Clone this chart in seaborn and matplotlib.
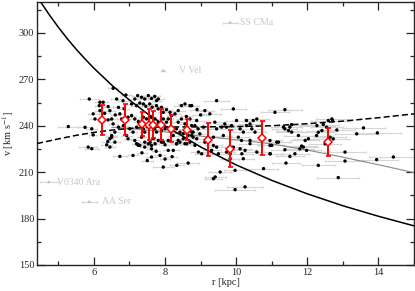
import numpy as np
import matplotlib
matplotlib.use("Agg")
import matplotlib.pyplot as plt
import seaborn as sns
from matplotlib.ticker import MultipleLocator

# star sample: (r [kpc], v [km/s], r error), grouped by region
left_pts = [
    (5.28, 239.5, 0.28), (5.75, 239.0, 0.20), (5.84, 226.2, 0.25), (5.94, 225.2, 0.20),
    (5.87, 257.3, 0.26), (5.98, 247.7, 0.15), (6.03, 244.4, 0.15), (5.94, 238.0, 0.15),
    (5.98, 234.1, 0.12), (6.17, 255.2, 0.15), (6.15, 253.0, 0.12), (6.17, 249.8, 0.15),
    (6.26, 255.2, 0.15), (6.40, 252.4, 0.15), (6.45, 249.8, 0.15), (6.40, 243.8, 0.12),
    (6.50, 244.4, 0.15), (6.54, 241.2, 0.12), (6.54, 264.2, 0.15), (6.64, 257.3, 0.15),
    (6.69, 251.9, 0.15), (6.73, 247.7, 0.15), (6.82, 256.2, 0.15), (6.90, 259.9, 0.15),
    (6.78, 244.4, 0.12), (6.83, 240.1, 0.15), (6.69, 239.1, 0.12), (6.59, 235.9, 0.15),
    (6.50, 233.7, 0.15), (6.45, 231.6, 0.12), (6.92, 233.7, 0.15), (6.36, 227.7, 0.15),
    (6.50, 232.6, 0.12), (6.59, 229.4, 0.15), (6.45, 226.2, 0.15), (6.39, 229.8, 0.15),
    (6.73, 220.2, 0.20), (6.30, 248.0, 0.15), (6.60, 247.0, 0.12), (6.85, 251.0, 0.15),
]

core_pts = [
    (7.15, 257.3, 0.15), (7.23, 259.5, 0.15), (7.34, 258.4, 0.12), (7.43, 257.3, 0.15),
    (7.53, 259.5, 0.12), (7.62, 257.7, 0.15), (7.71, 259.0, 0.15), (7.76, 256.2, 0.12),
    (7.81, 257.3, 0.15), (7.06, 254.1, 0.12), (7.20, 253.0, 0.15), (7.29, 254.7, 0.12),
    (7.39, 254.1, 0.15), (7.46, 252.6, 0.12), (7.57, 254.1, 0.15), (7.64, 252.0, 0.12),
    (7.76, 253.0, 0.15), (7.81, 250.9, 0.12), (7.90, 251.9, 0.15), (7.95, 248.7, 0.15),
    (8.04, 250.4, 0.15), (8.14, 248.7, 0.15), (8.18, 246.6, 0.12), (8.28, 247.7, 0.15),
    (8.37, 249.8, 0.20), (8.46, 253.0, 0.20), (8.56, 254.1, 0.20), (8.70, 253.0, 0.20),
    (6.96, 245.5, 0.12), (7.06, 246.6, 0.12), (7.15, 244.4, 0.15), (7.25, 242.7, 0.12),
    (7.39, 245.5, 0.12), (7.48, 244.4, 0.15), (7.62, 245.5, 0.12), (7.71, 244.4, 0.12),
    (7.81, 242.3, 0.15), (7.95, 244.4, 0.12), (8.04, 242.3, 0.15), (8.09, 244.4, 0.12),
    (8.37, 242.3, 0.15), (8.46, 244.4, 0.15), (8.56, 241.2, 0.15), (8.70, 244.4, 0.20),
    (8.75, 240.1, 0.15), (7.01, 238.0, 0.12), (7.10, 235.9, 0.12), (7.20, 239.1, 0.12),
    (7.39, 238.0, 0.12), (7.43, 235.9, 0.12), (7.71, 238.0, 0.12), (7.76, 235.9, 0.12),
    (7.90, 236.9, 0.12), (8.00, 238.0, 0.12), (8.32, 238.0, 0.15), (8.42, 235.9, 0.15),
    (8.51, 234.8, 0.15), (8.65, 233.7, 0.15), (8.75, 235.9, 0.15), (6.96, 231.6, 0.12),
    (7.15, 230.5, 0.12), (7.34, 232.6, 0.12), (7.43, 229.4, 0.12), (7.53, 228.3, 0.12),
    (7.67, 231.6, 0.12), (7.81, 230.5, 0.12), (7.95, 229.4, 0.12), (8.09, 230.5, 0.15),
    (8.23, 233.7, 0.15), (8.37, 230.5, 0.15), (8.51, 231.6, 0.15), (8.70, 229.4, 0.15),
    (8.79, 232.6, 0.15), (7.25, 227.3, 0.12), (7.62, 227.3, 0.12), (8.00, 227.7, 0.12),
    (8.32, 228.3, 0.15), (8.61, 228.3, 0.15),
]

low_pts = [
    (7.10, 220.8, 0.15), (7.20, 228.4, 0.12), (7.29, 227.3, 0.12), (7.43, 226.2, 0.12),
    (7.58, 229.4, 0.12), (7.62, 225.1, 0.12), (7.62, 219.8, 0.15), (7.72, 228.4, 0.12),
    (7.86, 220.8, 0.15), (7.90, 229.4, 0.12), (8.09, 224.1, 0.15), (8.23, 224.1, 0.15),
    (8.33, 228.4, 0.15), (8.42, 229.4, 0.15), (7.95, 213.3, 0.30), (8.33, 214.4, 0.20),
    (8.65, 215.9, 0.30), (8.56, 228.4, 0.15), (8.84, 227.3, 0.15), (8.94, 223.0, 0.20),
    (9.03, 221.9, 0.20), (9.12, 229.4, 0.20), (7.24, 227.9, 0.12), (7.35, 222.5, 0.15),
    (7.50, 217.5, 0.15), (8.00, 218.5, 0.15), (8.20, 220.0, 0.15), (7.75, 223.5, 0.12),
]

mid_pts = [
    (9.31, 224.1, 0.25), (9.36, 227.3, 0.25), (9.45, 226.2, 0.25), (9.50, 221.9, 0.25),
    (9.55, 210.1, 0.30), (9.41, 206.9, 0.30), (9.36, 205.8, 0.25), (9.73, 223.0, 0.25),
    (9.83, 221.9, 0.25), (9.83, 218.7, 0.25), (9.92, 226.2, 0.25), (10.11, 225.1, 0.30),
    (10.16, 221.9, 0.30), (10.20, 218.7, 0.30), (10.25, 224.1, 0.30), (9.97, 211.2, 0.30),
    (9.97, 198.7, 0.56), (10.25, 200.5, 0.50), (10.39, 228.4, 0.30), (10.58, 223.0, 0.35),
    (10.77, 212.3, 0.40), (10.96, 221.9, 0.35), (11.00, 227.3, 0.35), (11.14, 229.4, 0.35),
    (9.45, 256.2, 0.35), (9.26, 247.7, 0.30), (9.92, 250.9, 0.35), (8.89, 243.4, 0.20),
    (8.84, 240.1, 0.20), (8.93, 238.0, 0.20), (8.79, 235.9, 0.15), (8.75, 233.7, 0.15),
    (8.89, 231.6, 0.20), (9.40, 242.3, 0.25), (9.45, 238.0, 0.25), (9.59, 239.1, 0.25),
    (9.68, 241.2, 0.25), (9.73, 239.1, 0.25), (9.87, 240.1, 0.25), (10.01, 243.4, 0.30),
    (10.11, 238.0, 0.30), (10.20, 235.9, 0.30), (10.29, 240.1, 0.30), (10.39, 241.2, 0.30),
    (10.44, 238.0, 0.30), (10.48, 243.4, 0.30), (10.53, 235.9, 0.30), (10.06, 232.6, 0.30),
    (10.15, 230.5, 0.30), (10.39, 230.5, 0.30), (9.64, 233.7, 0.25), (9.36, 232.6, 0.25),
    (8.98, 234.8, 0.20), (9.08, 239.1, 0.20), (10.29, 243.4, 0.40), (10.58, 244.4, 0.35),
    (8.75, 253.0, 0.20), (8.90, 250.5, 0.20), (9.00, 247.0, 0.20), (9.12, 249.8, 0.25),
    (8.60, 246.0, 0.15),
]

far_pts = [
    (11.37, 250.4, 0.47), (11.09, 248.7, 0.40), (11.33, 239.1, 0.35), (11.37, 238.0, 0.35),
    (11.47, 236.9, 0.35), (11.51, 239.1, 0.35), (11.56, 235.9, 0.40), (11.75, 233.7, 0.40),
    (11.94, 230.5, 0.40), (12.03, 231.6, 0.40), (11.19, 229.4, 0.35), (12.27, 240.1, 0.50),
    (12.59, 243.4, 0.50), (12.69, 244.4, 0.45), (12.41, 236.9, 0.45), (11.56, 240.8, 0.40),
    (11.89, 226.2, 0.40), (11.79, 225.1, 0.40), (12.31, 235.8, 0.45), (12.26, 233.7, 0.45),
    (12.45, 240.8, 0.45), (12.54, 239.1, 0.45), (12.71, 243.4, 0.50), (12.64, 232.6, 0.45),
    (12.83, 237.3, 0.50), (12.73, 231.5, 0.45), (12.50, 228.3, 0.45), (13.39, 234.8, 0.60),
    (13.58, 238.6, 0.60), (13.97, 235.4, 0.66), (10.95, 230.5, 0.35), (10.95, 227.3, 0.35),
    (11.37, 224.5, 0.40), (11.51, 220.2, 0.40), (11.65, 221.9, 0.40), (11.40, 215.9, 0.40),
    (11.84, 226.9, 0.40), (11.98, 224.1, 0.40), (12.31, 214.4, 0.47), (12.87, 206.5, 0.59),
    (13.06, 223.0, 0.60), (13.06, 217.2, 0.55), (13.95, 218.1, 0.60), (14.42, 219.8, 0.68),
    (10.95, 221.9, 0.35),
]

# labelled outliers (drawn in light gray)
out_names = ["SS CMa", "V Vel", "V0340 Ara", "AA Ser"]
out_r = [9.83, 7.95, 4.73, 5.87]
out_v = [306.7, 275.6, 203.6, 190.8]
out_err = [0.21, 0.05, 0.25, 0.21]
out_text_r = [10.10, 8.40, 4.97, 6.22]

# binned means (red)
bin_r = [6.24, 6.88, 7.34, 7.55, 7.67, 7.88, 8.18, 8.63, 9.22, 9.83, 10.73, 12.59]
bin_v = [243.8, 243.8, 241.2, 240.6, 240.6, 240.6, 238.0, 237.5, 231.1, 225.1, 232.0, 229.4]
bin_err = [9.5, 10.0, 7.8, 10.0, 8.8, 10.0, 8.8, 7.0, 10.5, 12.0, 11.0, 9.0]

# model curves
kep_r = [4.4, 4.5, 4.75, 5.0, 5.25, 5.5, 5.75, 6.0, 6.5, 7.0, 7.5, 8.0, 9.0, 10.0, 11.0, 12.0, 13.0, 14.0, 15.0]
kep_v = [323.7, 320.1, 311.6, 303.7, 296.3, 289.5, 283.2, 277.2, 266.3, 256.6, 247.9, 240.0,
         226.3, 214.7, 204.7, 196.0, 188.3, 181.5, 175.3]
dash_r = [4.4, 5.0, 5.5, 6.0, 6.5, 7.0, 7.5, 8.0, 9.0, 10.0, 11.0, 12.0, 13.0, 14.0, 15.0]
dash_v = [228.5, 231.5, 233.8, 235.7, 237.2, 238.3, 238.9, 239.2, 239.3, 239.5, 240.0, 241.3,
          243.0, 245.2, 247.7]
fit_r = [6.5, 7.0, 8.0, 9.0, 10.0, 11.0, 12.0, 13.0, 14.0, 15.0]
fit_v = [239.0, 238.3, 236.0, 233.3, 231.0, 228.3, 224.3, 219.7, 214.8, 209.7]

sns.set_style("ticks")
plt.rcParams["font.family"] = ["Liberation Serif", "DejaVu Serif"]
plt.rcParams["mathtext.fontset"] = "stix"

stars = np.array(left_pts + core_pts + low_pts + mid_pts + far_pts)

fig = plt.figure(figsize=(4.15, 2.91), dpi=100)
ax = fig.add_axes([37 / 415, 26 / 291, 377 / 415, 263 / 291])

ax.errorbar(stars[:, 0], stars[:, 1], xerr=stars[:, 2], fmt="none",
            ecolor="#d6d6d6", elinewidth=0.8, capsize=1.0, zorder=1)
ax.errorbar(out_r, out_v, xerr=out_err, fmt="none",
            ecolor="#d6d6d6", elinewidth=0.8, capsize=1.0, zorder=1)
sns.scatterplot(x=out_r, y=out_v, color="#c4c4c4", s=4, edgecolor="none", ax=ax, zorder=2)
for name, tr, tv in zip(out_names, out_text_r, out_v):
    ax.text(tr, tv, name, color="#c8c8c8", fontsize=7, va="center", ha="left")

sns.lineplot(x=fit_r, y=fit_v, color="#8a8a8a", linewidth=0.8, sort=False,
             estimator=None, ax=ax, zorder=2)
sns.scatterplot(x=stars[:, 0], y=stars[:, 1], color="black", s=6,
                edgecolor="none", ax=ax, zorder=3)
sns.lineplot(x=kep_r, y=kep_v, color="black", linewidth=1.1, sort=False,
             estimator=None, ax=ax, zorder=4)
sns.lineplot(x=dash_r, y=dash_v, color="black", linewidth=1.1, sort=False,
             estimator=None, ax=ax, zorder=4, dashes=False, linestyle=(0, (4, 2)))

ax.errorbar(bin_r, bin_v, yerr=bin_err, fmt="none", ecolor="red",
            elinewidth=1.4, capsize=1.8, capthick=1.2, zorder=5)
ax.plot(bin_r, bin_v, "D", ms=4.2, mfc="white", mec="red", mew=1.1, zorder=6)

ax.set_xlim(4.4, 15.0)
ax.set_ylim(150, 320)
ax.xaxis.set_major_locator(MultipleLocator(2))
ax.xaxis.set_minor_locator(MultipleLocator(1))
ax.yaxis.set_major_locator(MultipleLocator(30))
ax.yaxis.set_minor_locator(MultipleLocator(15))
ax.tick_params(which="both", direction="in", top=True, right=True, labelsize=7.5, pad=2)
ax.tick_params(which="major", length=5.5, width=0.9)
ax.tick_params(which="minor", length=3, width=0.9)
for sp in ax.spines.values():
    sp.set_linewidth(1.0)
    sp.set_visible(True)

ax.set_xlabel("r [kpc]", fontsize=7.5, labelpad=1)
ax.set_ylabel(r"v [km s$^{-1}$]", fontsize=7.5, labelpad=2)

fig.savefig("out.png", dpi=100)
